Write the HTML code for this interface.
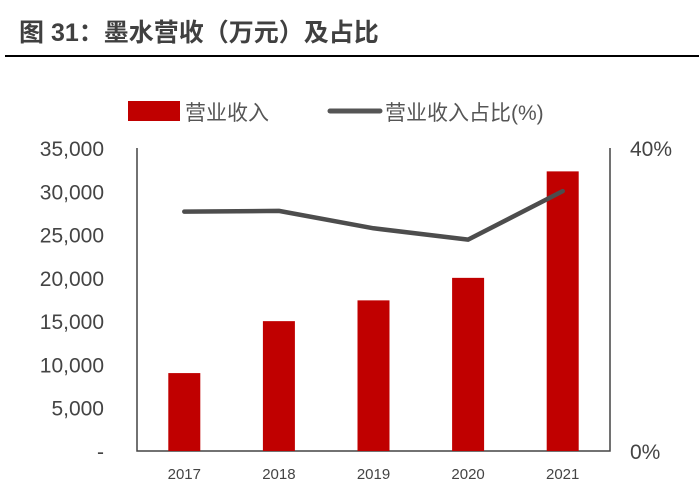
<!DOCTYPE html>
<html><head><meta charset="utf-8"><style>
body{margin:0;background:#fff;width:699px;height:483px;overflow:hidden;font-family:"Liberation Sans","Noto Sans CJK SC",sans-serif}
</style></head><body>
<svg width="699" height="483" xmlns="http://www.w3.org/2000/svg">
<text x="19" y="41" font-size="25" font-weight="bold" fill="#404040" font-family="Liberation Sans, Noto Sans CJK SC, sans-serif">图 31：墨水营收（万元）及占比</text>
<line x1="5" y1="56" x2="699" y2="56" stroke="#000" stroke-width="2"/>
<g>
<rect x="128" y="101" width="52" height="20" fill="#c00000"/>
<text x="185" y="120" font-size="21" fill="#555">营业收入</text>
<line x1="330" y1="111" x2="380" y2="111" stroke="#555" stroke-width="5" stroke-linecap="round"/>
<text x="385" y="120" font-size="21" fill="#555">营业收入占比(%)</text>
</g>
<g id="axes"></g>
<g id="marks"></g>
</svg>
<script>
const categories=["2017","2018","2019","2020","2021"];
const revenue=[9000,15000,17400,20000,32300];
const share=[31.6,31.7,29.4,27.9,34.3];
const leftTicks=[0,5000,10000,15000,20000,25000,30000,35000];
const leftTickLabels=["-","5,000","10,000","15,000","20,000","25,000","30,000","35,000"];
const rightTicks=[0,40];
const rightTickLabels=["0%","40%"];
const X0=137,X1=610,Y0=451,Y1=148;
const yL=v=>Y0-(v/35000)*(Y0-Y1);
const yR=v=>Y0-(v/40)*(Y0-Y1);
const band=(X1-X0)/categories.length;
const xC=i=>X0+band*(i+0.5);
const NS="http://www.w3.org/2000/svg";
const axes=document.getElementById('axes'),marks=document.getElementById('marks');
function mk(tag,attrs,parent,txt){const e=document.createElementNS(NS,tag);for(const k in attrs)e.setAttribute(k,attrs[k]);if(txt!==undefined)e.textContent=txt;parent.appendChild(e);return e;}
leftTicks.forEach((t,i)=>{
const e=mk('text',{x:104,y:yL(t)+8,'font-size':21,fill:'#444','text-anchor':'end'},axes,leftTickLabels[i]);


});
rightTicks.forEach((t,i)=>{
const e=mk('text',{x:630,y:yR(t)+8,'font-size':21,fill:'#444'},axes,rightTickLabels[i]);


});
categories.forEach((c,i)=>{
const b=mk('rect',{x:xC(i)-16,y:yL(revenue[i]),width:32,height:Y0-yL(revenue[i]),fill:'#c00000'},marks);


const t=mk('text',{x:xC(i),y:479,'font-size':15,fill:'#444','text-anchor':'middle'},axes,c);


});
const frame=mk('path',{d:`M${X0} ${Y1}V${Y0}H${X1}V${Y1}`,fill:'none',stroke:'#444','stroke-width':1.5},axes);


const line=mk('polyline',{points:share.map((v,i)=>xC(i)+','+yR(v)).join(' '),fill:'none',stroke:'#4d4d4d','stroke-width':4.5,'stroke-linejoin':'round','stroke-linecap':'round'},marks);


</script>
</body></html>
